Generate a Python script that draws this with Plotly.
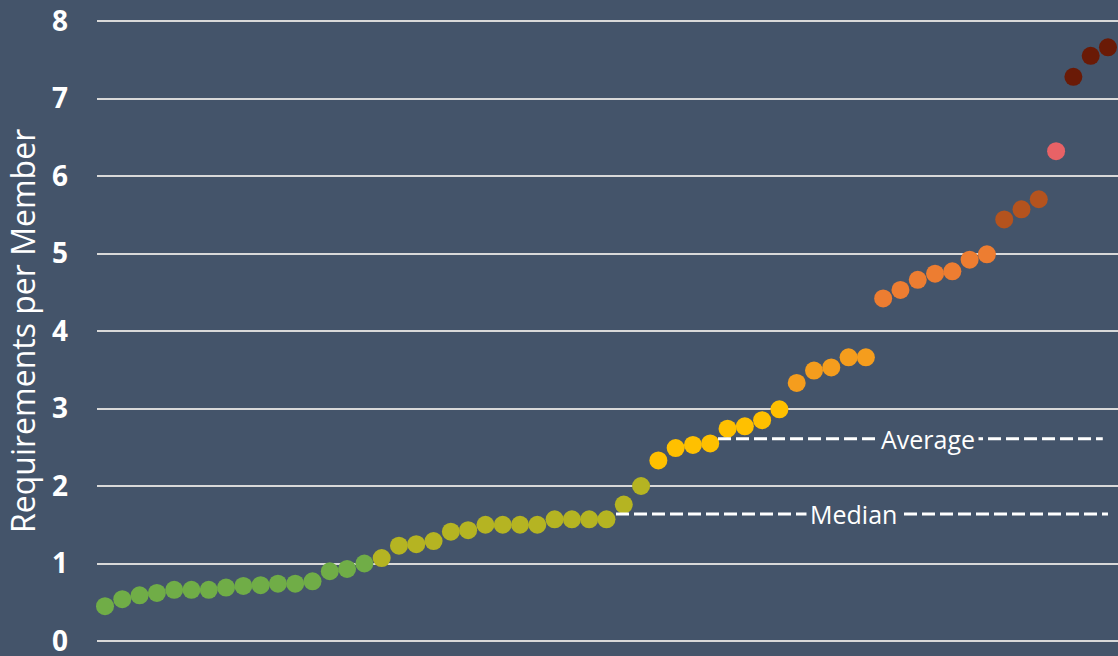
import plotly.graph_objects as go

# Data
member_index = list(range(1, 60))
requirements = [
    0.45, 0.54, 0.59, 0.62, 0.66, 0.66, 0.66, 0.69, 0.71, 0.72, 0.74, 0.74, 0.77, 0.90, 0.93, 1.00,
    1.07, 1.23, 1.25, 1.29, 1.41, 1.43, 1.50, 1.50, 1.50, 1.50, 1.57, 1.57, 1.57, 1.57, 1.76, 2.00,
    2.33, 2.49, 2.53, 2.55, 2.74, 2.77, 2.85, 2.99,
    3.33, 3.49, 3.53, 3.66, 3.66,
    4.42, 4.53, 4.66, 4.74, 4.77, 4.92, 4.99,
    5.44, 5.57, 5.70,
    6.32,
    7.28, 7.55, 7.66,
]
tier_sizes = [16, 16, 8, 5, 7, 3, 1, 3]
tier_colors = ["#70AD47", "#B5B422", "#FFC000", "#F59D1D", "#ED7D31", "#B4531E", "#E86266", "#6A1A06"]

median_value = 1.64
median_span = [30.55, 59.0]
median_label_x = 44.3
average_value = 2.61
average_span = [36.45, 58.7]
average_label_x = 48.6

y_ticks = [0, 1, 2, 3, 4, 5, 6, 7, 8]

BG = "#44546A"

point_colors = []
for size, col in zip(tier_sizes, tier_colors):
    point_colors += [col] * size

fig = go.Figure()
fig.add_trace(go.Scatter(
    x=member_index, y=requirements, mode="markers",
    marker=dict(size=18, color=point_colors, line=dict(width=0)),
    cliponaxis=False, showlegend=False, hoverinfo="y",
))

for val, span in [(median_value, median_span), (average_value, average_span)]:
    fig.add_shape(type="line", xref="x", yref="y", x0=span[0], x1=span[1], y0=val, y1=val,
                  line=dict(color="white", width=3, dash="13px,5px"))

for label, xv, val in [("Median", median_label_x, median_value), ("Average", average_label_x, average_value)]:
    fig.add_annotation(x=xv, y=val, xref="x", yref="y", text=label, showarrow=False,
                       font=dict(family="Open Sans", size=25, color="white"),
                       bgcolor=BG, borderpad=3)

fig.add_annotation(x=-0.0735, y=0.5, xref="paper", yref="paper", text="Requirements per Member",
                   textangle=-90, showarrow=False, xanchor="center", yanchor="middle",
                   font=dict(family="Open Sans", size=32, color="white"))

pad = 0.0258
fig.update_layout(
    width=1118, height=656,
    paper_bgcolor=BG, plot_bgcolor=BG,
    margin=dict(l=97, r=0, t=19, b=13),
    xaxis=dict(range=[0.537, 59.58], showgrid=False, zeroline=False, showticklabels=False,
               showline=False, automargin=False),
    yaxis=dict(range=[-pad, 8 + pad], tickvals=y_ticks, showgrid=True, gridcolor="#D9D9D9", gridwidth=2,
               zeroline=False, showline=False, ticklabelstandoff=28, ticklabeloverflow="allow",
               automargin=False,
               tickfont=dict(family="Open Sans", size=28, color="white", weight="bold")),
    font=dict(family="Open Sans", color="white"),
)

fig.write_html("out.html", config={"displayModeBar": False},
               post_script="document.body.style.margin='0';document.body.style.background='%s';" % BG)
